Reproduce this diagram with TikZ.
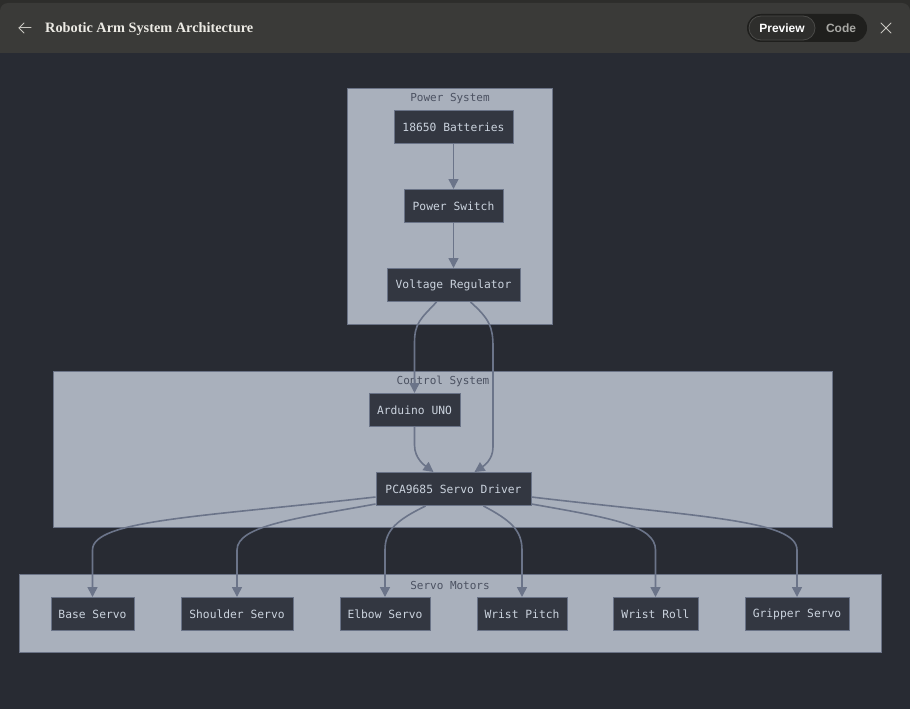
\documentclass[tikz,border=0pt]{standalone}
\usepackage{fontspec}
\usepackage{graphicx}
\setmainfont{Liberation Serif}
\newfontfamily\monof{DejaVu Sans Mono}
\newfontfamily\uisans{Liberation Sans}
\usetikzlibrary{arrows.meta,calc}
\definecolor{topstrip}{HTML}{2D2D2B}
\definecolor{barbg}{HTML}{3A3A38}
\definecolor{mainbg}{HTML}{282B33}
\definecolor{clfill}{HTML}{A9B0BC}
\definecolor{clline}{HTML}{6B7386}
\definecolor{clabel}{HTML}{4B5161}
\definecolor{ndfill}{HTML}{333741}
\definecolor{ndline}{HTML}{6A7387}
\definecolor{ndtext}{HTML}{CBD3DE}
\definecolor{edgec}{HTML}{6B7489}
\definecolor{pillout}{HTML}{1F1F1D}
\definecolor{pillin}{HTML}{2E2E2C}
\definecolor{pilledge}{HTML}{4A4A48}
\definecolor{codetxt}{HTML}{A8A8A4}
\definecolor{titletxt}{HTML}{ECEAE4}
\definecolor{icontxt}{HTML}{C8C6C0}
\begin{document}
\begin{tikzpicture}[x=1pt,y=-1pt,
  cluster/.style={draw=clline,fill=clfill,line width=1pt},
  clusterlabel/.style={text=clabel,font=\monof\fontsize{11}{13}\selectfont,inner sep=0pt},
  box/.style={draw=ndline,fill=ndfill,line width=1pt,text=ndtext,
    font=\monof\fontsize{11.3}{13}\selectfont,minimum height=33pt,inner sep=0pt},
  conn/.style={draw=edgec,line width=1.6pt,-{Triangle[length=10pt,width=10pt]}}]
\useasboundingbox (0,0) rectangle (910,709);
% window chrome
\fill[topstrip] (0,0) rectangle (910,709);
\fill[barbg,rounded corners=8pt] (0,3) rectangle (910,70);
\fill[mainbg] (0,53) rectangle (910,709);
\draw[line width=1pt,icontxt,line cap=round] (19,28) -- (31,28);
\draw[line width=1pt,icontxt,line cap=round,line join=round] (24,23) -- (19,28) -- (24,33);
\node[anchor=base west,text=titletxt,inner sep=0pt] (title) at (45,33) {\resizebox{208pt}{!}{\fontsize{15}{17}\selectfont\bfseries Robotic Arm System Architecture}};
\fill[pillout,rounded corners=14pt] (747,14) rectangle (867,42);
\draw[fill=pillin,draw=pilledge,line width=0.8pt,rounded corners=12pt] (749,16) rectangle (815,40);
\node[text=white,font=\uisans\bfseries\fontsize{12}{14}\selectfont,inner sep=0pt] (prev) at (782,28) {Preview};
\node[text=codetxt,font=\uisans\bfseries\fontsize{12}{14}\selectfont,inner sep=0pt] (code) at (841,28) {Code};
\draw[line width=1pt,icontxt,line cap=round] (881,23) -- (891,33) (891,23) -- (881,33);
% clusters
\draw[cluster] (347,88) rectangle (552,324);
\node[clusterlabel] (lpow) at (450,99) {Power System};
\draw[cluster] (53,371) rectangle (832,527);
\node[clusterlabel] (lctl) at (443,381) {Control System};
\draw[cluster] (19,574) rectangle (881,652);
\node[clusterlabel] (lsrv) at (450,585) {Servo Motors};
% nodes
\node[box,minimum width=119pt] (bat) at (453.5,127) {18650 Batteries};
\node[box,minimum width=99pt] (sw) at (453.5,206) {Power Switch};
\node[box,minimum width=133pt] (reg) at (453.5,285) {Voltage Regulator};
\node[box,minimum width=91pt] (ard) at (414.5,410) {Arduino UNO};
\node[box,minimum width=155pt] (pca) at (453.5,489) {PCA9685 Servo Driver};
\node[box,minimum width=83pt] (s1) at (92.5,614) {Base Servo};
\node[box,minimum width=112pt] (s2) at (237,614) {Shoulder Servo};
\node[box,minimum width=90pt] (s3) at (385,614) {Elbow Servo};
\node[box,minimum width=90pt] (s4) at (522,614) {Wrist Pitch};
\node[box,minimum width=85pt] (s5) at (655.5,614) {Wrist Roll};
\node[box,minimum width=104pt] (s6) at (797,614) {Gripper Servo};
% connectors
\draw[conn] (bat.south) -- (sw.north);
\draw[conn] (sw.south) -- (reg.north);
\draw[conn] ($(reg.south)+(-17,0)$) .. controls ($(reg.south)+(-33,17)$) and ($(ard.north)+(0,-70)$) .. ($(ard.north)+(0,-50)$) -- (ard.north);
\draw[conn] ($(reg.south)+(17,0)$) .. controls ($(reg.south)+(36,17)$) and ($(reg.south)+(39.5,25)$) .. ($(reg.south)+(39.5,45)$) -- ($(pca.north)+(39.5,-25)$) .. controls ($(pca.north)+(39.5,-12)$) and ($(pca.north)+(30,-6)$) .. ($(pca.north)+(21,0)$);
\draw[conn] (ard.south) -- ($(ard.south)+(0,18)$) .. controls ($(ard.south)+(0,32)$) and ($(pca.north)+(-28,-6)$) .. ($(pca.north)+(-20,0)$);
\draw[conn] ($(pca.west)+(0,8)$) .. controls (200,517) and ($(s1.north)+(0,-77)$) .. ($(s1.north)+(0,-47)$) -- (s1.north);
\draw[conn] ($(pca.south west)+(0,-2)$) .. controls (300,518) and ($(s2.north)+(0,-72)$) .. ($(s2.north)+(0,-47)$) -- (s2.north);
\draw[conn] ($(pca.south)+(-28,0)$) .. controls (397,520) and ($(s3.north)+(0,-67)$) .. ($(s3.north)+(0,-47)$) -- (s3.north);
\draw[conn] ($(pca.south)+(30,0)$) .. controls (510,520) and ($(s4.north)+(0,-67)$) .. ($(s4.north)+(0,-47)$) -- (s4.north);
\draw[conn] ($(pca.south east)+(0,-2)$) .. controls (610,518) and ($(s5.north)+(0,-72)$) .. ($(s5.north)+(0,-47)$) -- (s5.north);
\draw[conn] ($(pca.east)+(0,8)$) .. controls (700,517) and ($(s6.north)+(0,-77)$) .. ($(s6.north)+(0,-47)$) -- (s6.north);
\end{tikzpicture}
\end{document}
